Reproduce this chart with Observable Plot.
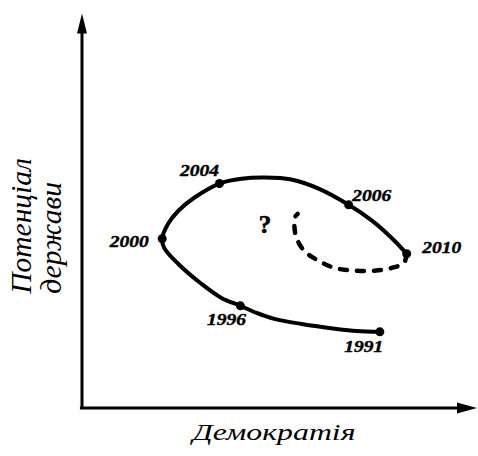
<!DOCTYPE html>
<html><head><meta charset="utf-8">
<script src="https://cdn.jsdelivr.net/npm/d3@7"></script>
<script src="https://cdn.jsdelivr.net/npm/@observablehq/plot@0.6"></script>
<style>
html,body{margin:0;padding:0;background:#fff;}
svg{display:block;}
</style></head><body><div id="chart"></div>
<script>
// Observed points (democracy, state potential)
const years = ["1991", "1996", "2000", "2004", "2006", "2010"];
const democracy = [75.4, 40.1, 20.3, 34.8, 67.5, 82.2];
const potential = [19.3, 25.9, 42.9, 56.9, 51.5, 39.1];

// Traced trajectory 1991 -> 2010
const pathDemocracy = [75.4, 69.5, 64.0, 55.6, 48.7, 44.2, 40.1, 35.3, 30.2, 24.4, 20.8, 20.3, 21.8, 24.4, 28.4, 34.8, 40.4, 46.2, 53.0, 59.9, 67.5, 73.4, 78.4, 82.2];
const pathPotential = [19.3, 19.5, 20.1, 21.3, 22.6, 24.1, 25.9, 27.9, 31.5, 36.5, 40.6, 42.9, 46.7, 50.0, 53.3, 56.9, 58.1, 58.4, 57.9, 55.6, 51.5, 47.5, 43.1, 39.1];

// Projected (dashed) continuation after 2010
const forecastDemocracy = [82.2, 81.5, 78.4, 74.1, 69.0, 64.0, 59.9, 56.3, 54.3, 53.8, 53.8, 54.6];
const forecastPotential = [39.1, 36.8, 35.5, 34.8, 34.8, 35.5, 37.3, 39.8, 43.1, 45.7, 48.2, 49.2];

const unknownLabel = "?";
const unknownDemocracy = 46.3;
const unknownPotential = 46.4;

const xTitle = "Демократія";
const yTitleLines = ["Потенціал", "держави"];

const xDomain = [0, 100];
const yDomain = [0, 100];

// ---- build tables
const points = years.map((year, i) => ({year, x: democracy[i], y: potential[i]}));
const path = pathDemocracy.map((x, i) => ({x, y: pathPotential[i]}));
const forecast = forecastDemocracy.map((x, i) => ({x, y: forecastPotential[i]}));

// label placement (pixels) relative to each point
const labelOffset = {
  "1991": [-16, 15], "1996": [-14, 14], "2000": [-33, 3],
  "2004": [-20, -13], "2006": [23, -9], "2010": [35, -6]
};

const arrowUp = {draw(ctx) { ctx.moveTo(0, 0); ctx.lineTo(-5, 20); ctx.lineTo(5, 20); ctx.closePath(); }};
const arrowRight = {draw(ctx) { ctx.moveTo(0, 0); ctx.lineTo(-20, -5.5); ctx.lineTo(-20, 5.5); ctx.closePath(); }};

const serif = "Liberation Serif, Times New Roman, serif";

const marks = [
  Plot.ruleX([xDomain[0]], {y1: yDomain[0], y2: yDomain[1] - 3, stroke: "black", strokeWidth: 3}),
  Plot.ruleY([yDomain[0]], {x1: xDomain[0] - 0.4, x2: xDomain[1] - 3, stroke: "black", strokeWidth: 3}),
  Plot.dot([0], {x: xDomain[0], y: yDomain[1], symbol: arrowUp, fill: "black", stroke: "none"}),
  Plot.dot([0], {x: xDomain[1], y: yDomain[0], symbol: arrowRight, fill: "black", stroke: "none"}),
  Plot.line(path, {x: "x", y: "y", curve: "catmull-rom", stroke: "black", strokeWidth: 4, strokeLinecap: "round", strokeLinejoin: "round"}),
  Plot.line(forecast, {x: "x", y: "y", curve: "catmull-rom", stroke: "black", strokeWidth: 4.5, strokeDasharray: "7,10", strokeLinecap: "round"}),
  Plot.dot(points, {x: "x", y: "y", r: 4.5, fill: "black", stroke: "none"}),
  ...points.map(p => Plot.text([p], {
    x: "x", y: "y", text: "year",
    dx: labelOffset[p.year][0], dy: labelOffset[p.year][1],
    fontFamily: serif, fontWeight: "bold", fontStyle: "italic", fontSize: 16,
    fill: "black", stroke: "black", strokeWidth: 0.4, paintOrder: "normal"
  })),
  Plot.text([unknownLabel], {x: unknownDemocracy, y: unknownPotential, text: d => d,
    fontFamily: serif, fontWeight: "bold", fontSize: 25, fill: "black", stroke: "black", strokeWidth: 0.6, paintOrder: "normal"}),
  Plot.text([xTitle], {frameAnchor: "bottom", text: d => d, dx: -5.5, dy: 32,
    fontFamily: serif, fontStyle: "italic", fontSize: 23, fill: "black"}),
  Plot.text([yTitleLines[0]], {frameAnchor: "left", text: d => d, rotate: -90, textAnchor: "start",
    dx: -60, dy: 83, fontFamily: serif, fontStyle: "italic", fontSize: 29.5, fill: "black"}),
  Plot.text([yTitleLines[1]], {frameAnchor: "left", text: d => d, rotate: -90, textAnchor: "start",
    dx: -30, dy: 83, fontFamily: serif, fontStyle: "italic", fontSize: 29.5, fill: "black"})
];

const chart = Plot.plot({
  width: 478,
  height: 456,
  marginLeft: 81.5,
  marginRight: 1.5,
  marginTop: 13,
  marginBottom: 48.5,
  x: {domain: xDomain, axis: null},
  y: {domain: yDomain, axis: null},
  style: {background: "white", overflow: "visible"},
  marks
});

// the reference typeface is horizontally wide: stretch the horizontal texts
d3.select(chart).selectAll("text").each(function() {
  const t = this.textContent;
  if (t === xTitle) {
    this.setAttribute("textLength", 163);
    this.setAttribute("lengthAdjust", "spacingAndGlyphs");
  } else if (years.includes(t)) {
    this.setAttribute("textLength", 39);
    this.setAttribute("lengthAdjust", "spacingAndGlyphs");
  }
});

document.getElementById("chart").appendChild(chart);
</script>
</body></html>
